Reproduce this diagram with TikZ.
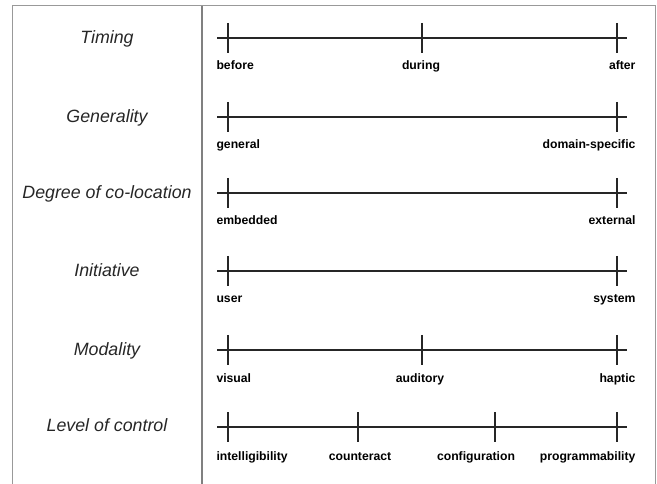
\documentclass[tikz,border=0pt]{standalone}
\usepackage{fontspec}
\setmainfont{Liberation Sans}
\begin{document}
\begin{tikzpicture}[x=1pt,y=-1pt,
    dimlabel/.style={font=\fontsize{17.8}{20}\selectfont\itshape,anchor=base,text=black!85},
    poslabel/.style={font=\fontsize{12.2}{14}\selectfont\bfseries,anchor=base,text=black},
    axis/.style={draw=black!85,line width=1.3pt},
    frameline/.style={draw=black!40,line width=1pt}]
  \useasboundingbox (0,0) rectangle (657,484);
  % frame and divider
  \coordinate (fbl) at (12.5,484);
  \coordinate (ftl) at (12.5,6);
  \coordinate (ftr) at (655,6);
  \coordinate (fbr) at (655,484);
  \draw[frameline] (fbl) -- (ftl) -- (ftr) -- (fbr);
  \coordinate (dtop) at (202,6);
  \coordinate (dbot) at (202,484);
  \draw[draw=black!50,line width=1.5pt] (dtop) -- (dbot);

  % Timing
  \node[dimlabel] (timing) at (107,44) {Timing};
  \draw[axis] (217,38) coordinate (timingL) -- (627,38) coordinate (timingR);
  \draw[axis] (228,23) -- (228,53);
  \draw[axis] (422,23) -- (422,53);
  \draw[axis] (617,23) -- (617,53);
  \node[poslabel,anchor=base west] (before) at (213,70) {before};
  \node[poslabel] (during) at (421,70) {during};
  \node[poslabel,anchor=base east] (after) at (639,70) {after};

  % Generality
  \node[dimlabel] (generality) at (107,123) {Generality};
  \draw[axis] (217,117) coordinate (generalityL) -- (627,117) coordinate (generalityR);
  \draw[axis] (228,102) -- (228,132);
  \draw[axis] (617,102) -- (617,132);
  \node[poslabel,anchor=base west] (general) at (213,149) {general};
  \node[poslabel,anchor=base east] (domain) at (639,149) {domain-specific};

  % Degree of co-location
  \node[dimlabel] (colocation) at (107,198.5) {Degree of co-location};
  \draw[axis] (217,193) coordinate (colocationL) -- (627,193) coordinate (colocationR);
  \draw[axis] (228,178) -- (228,208);
  \draw[axis] (617,178) -- (617,208);
  \node[poslabel,anchor=base west] (embedded) at (213,225) {embedded};
  \node[poslabel,anchor=base east] (external) at (639,225) {external};

  % Initiative
  \node[dimlabel] (initiative) at (107,276.5) {Initiative};
  \draw[axis] (217,271) coordinate (initiativeL) -- (627,271) coordinate (initiativeR);
  \draw[axis] (228,256) -- (228,286);
  \draw[axis] (617,256) -- (617,286);
  \node[poslabel,anchor=base west] (user) at (213,303) {user};
  \node[poslabel,anchor=base east] (system) at (639,303) {system};

  % Modality
  \node[dimlabel] (modality) at (107,355.5) {Modality};
  \draw[axis] (217,350) coordinate (modalityL) -- (627,350) coordinate (modalityR);
  \draw[axis] (228,335) -- (228,365);
  \draw[axis] (422,335) -- (422,365);
  \draw[axis] (617,335) -- (617,365);
  \node[poslabel,anchor=base west] (visual) at (213,382) {visual};
  \node[poslabel] (auditory) at (420,382) {auditory};
  \node[poslabel,anchor=base east] (haptic) at (639,382) {haptic};

  % Level of control
  \node[dimlabel] (control) at (107,431.5) {Level of control};
  \draw[axis] (217,427) coordinate (controlL) -- (627,427) coordinate (controlR);
  \draw[axis] (228,412) -- (228,442);
  \draw[axis] (358,412) -- (358,442);
  \draw[axis] (495,412) -- (495,442);
  \draw[axis] (617,412) -- (617,442);
  \node[poslabel,anchor=base west] (intelligibility) at (213,460) {intelligibility};
  \node[poslabel] (counteract) at (360,460) {counteract};
  \node[poslabel] (configuration) at (476,460) {configuration};
  \node[poslabel,anchor=base east] (programmability) at (639,460) {programmability};
\end{tikzpicture}
\end{document}
